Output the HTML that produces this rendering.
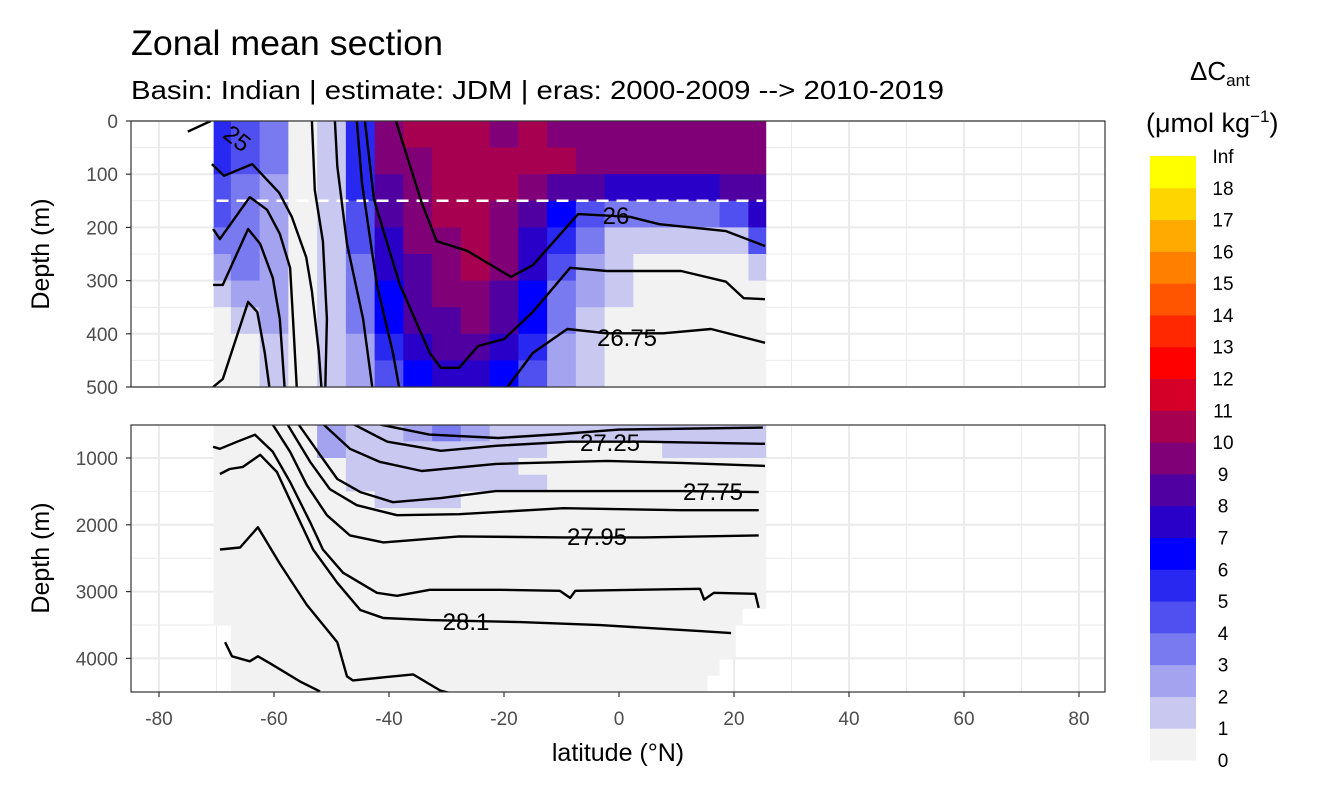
<!DOCTYPE html>
<html><head><meta charset="utf-8"><style>
body{margin:0;background:#fff;}
svg text{font-family:"Liberation Sans",Arial,sans-serif;}
</style></head><body>
<svg id="chart" width="1344" height="806" viewBox="0 0 1344 806" xmlns="http://www.w3.org/2000/svg">
<defs>
<clipPath id="clipTop"><rect x="131" y="121" width="974" height="266"/></clipPath>
<clipPath id="clipBot"><rect x="131" y="425" width="974" height="267"/></clipPath>
</defs>
<rect width="1344" height="806" fill="#fff"/>
<text x="131" y="55" font-size="35" textLength="312" lengthAdjust="spacingAndGlyphs" fill="#000">Zonal mean section</text>
<text x="131" y="99" font-size="26" textLength="813" lengthAdjust="spacingAndGlyphs" fill="#000">Basin: Indian | estimate: JDM  | eras: 2000-2009 --&gt; 2010-2019</text>
<g id="gTop"></g>
<g id="gBot"></g>
<g id="gAxes"></g>
<text transform="translate(49,254) rotate(-90)" text-anchor="middle" font-size="25" fill="#000">Depth (m)</text>
<text transform="translate(49,558) rotate(-90)" text-anchor="middle" font-size="25" fill="#000">Depth (m)</text>
<text x="618" y="761" text-anchor="middle" font-size="25" fill="#000">latitude (°N)</text>
<g id="gLegend">
<text x="1190" y="80" font-size="26" fill="#000">ΔC<tspan font-size="17" dy="6">ant</tspan></text>
<text x="1146" y="132" font-size="27" fill="#000">(μmol kg<tspan font-size="17" dy="-10">−1</tspan><tspan dy="10">)</tspan></text>
</g>
</svg>
<script>
const NS='http://www.w3.org/2000/svg';
const latCenters=[-70,-65,-60,-55,-50,-45,-40,-35,-30,-25,-20,-15,-10,-5,0,5,10,15,20,25];
const topDepthCenters=[25,75,125,175,225,275,325,375,425,475];
const topValues=[
[5,4,3,0,1,5,9,10,10,10,9,10,9,9,9,9,9,9,9,9],
[5,4,3,0,1,5,9,9,10,10,10,10,10,9,9,9,9,9,9,9],
[4,3,2,0,1,5,8,9,10,10,10,9,8,8,7,7,7,7,8,8],
[4,3,2,0,1,4,8,9,10,10,9,8,6,4,3,3,3,3,4,7],
[3,3,2,0,1,4,7,9,9,10,9,7,5,3,1,1,1,1,1,4],
[2,3,2,0,1,3,7,8,9,10,9,7,4,2,1,0,0,0,0,1],
[1,2,2,0,1,3,6,8,9,9,8,6,3,2,1,0,0,0,0,0],
[0,1,2,0,1,3,6,8,8,9,8,6,3,1,0,0,0,0,0,0],
[0,0,1,0,1,2,5,7,8,8,7,5,2,1,0,0,0,0,0,0],
[0,0,1,0,1,2,4,6,7,7,6,4,2,1,0,0,0,0,0,0]];
const botDepthCenters=[625,875,1125,1375,1625,1875,2125,2375,2625,2875,3125,3375,3625,3875,4125,4375];
const botValues=[
[0,0,0,0,2,1,1,2,3,2,1,1,1,1,1,1,1,1,1,1],
[0,0,0,0,2,1,1,1,1,1,1,1,0,0,0,0,1,1,1,1],
[0,0,0,0,0,1,1,1,1,1,1,0,0,0,0,0,0,0,0,0],
[0,0,0,0,0,1,1,1,1,1,1,1,0,0,0,0,0,0,0,0],
[0,0,0,0,0,0,1,1,1,0,0,0,0,0,0,0,0,0,0,0],
[0,0,0,0,0,0,0,0,0,0,0,0,0,0,0,0,0,0,0,0],
[0,0,0,0,0,0,0,0,0,0,0,0,0,0,0,0,0,0,0,0],
[0,0,0,0,0,0,0,0,0,0,0,0,0,0,0,0,0,0,0,0],
[0,0,0,0,0,0,0,0,0,0,0,0,0,0,0,0,0,0,0,0],
[0,0,0,0,0,0,0,0,0,0,0,0,0,0,0,0,0,0,0,0],
[0,0,0,0,0,0,0,0,0,0,0,0,0,0,0,0,0,0,0,0],
[0,0,0,0,0,0,0,0,0,0,0,0,0,0,0,0,0,0,0,0],
[0,0,0,0,0,0,0,0,0,0,0,0,0,0,0,0,0,0,0,0],
[0,0,0,0,0,0,0,0,0,0,0,0,0,0,0,0,0,0,0,0],
[0,0,0,0,0,0,0,0,0,0,0,0,0,0,0,0,0,0,0,0],
[0,0,0,0,0,0,0,0,0,0,0,0,0,0,0,0,0,0,0,0]];
const botCoverageDepth=[3250,3500,4000,4250,4500];
const botCoverageMaxLat=[25.5,21.4,20.2,17.4,15.3];
const botCoverageMinLat=[-70.5,-70.5,-67.5,-67.5,-67.5];
const binColors=['#f2f2f2','#c8c8f0','#a3a3f0','#7a7af0','#5050f0','#2828f0','#0000ff','#2800c8','#5000a0','#800078','#a80050','#d40028','#ff0000','#ff2800','#ff5500','#ff8000','#ffaa00','#ffd500','#ffff00'];
const legendLabels=['0','1','2','3','4','5','6','7','8','9','10','11','12','13','14','15','16','17','18','Inf'];
const xTicks=[-80,-60,-40,-20,0,20,40,60,80];
const topYTicks=[0,100,200,300,400,500];
const botYTicks=[1000,2000,3000,4000];
const topLines=[
[[-70.8,81],[-68.7,103],[-63.8,81],[-59.1,135],[-56.9,180],[-54.4,256],[-53.4,320],[-52.2,434],[-51.7,508]],
[[-70.6,203],[-69.4,222],[-64.2,143],[-61.2,167],[-59,212],[-57.2,276],[-56.7,372],[-56,509]],
[[-70.6,308],[-68.9,308],[-64.5,203],[-62.4,231],[-60.2,295],[-59,372],[-58.1,509]],
[[-70.6,500],[-68.9,485],[-64.5,340],[-62.9,359],[-61.6,436],[-60.7,509]],
[[-53.4,0],[-52.9,130],[-51.5,226],[-50.8,372],[-51.1,509]],
[[-49.4,0],[-49,85],[-47.3,231],[-44.5,372],[-42.8,509]],
[[-45.6,0],[-44.7,117],[-42.1,308],[-39.3,436],[-38.1,509]],
[[-44.2,0],[-42.6,148],[-38.1,308],[-32.9,436],[-31,464],[-27.8,464],[-24.5,423],[-20,410],[-15,359],[-8.5,276],[-2.1,282],[10.8,282],[18.6,302],[21.7,333],[25.4,335]],
[[-38.8,0],[-34.3,154],[-31.7,226],[-26.4,244],[-18.8,293],[-15,271],[-7.1,175],[1.9,180],[7,194],[18.6,207],[25.4,235]],
[[-20,509],[-15,436],[-9,391],[-2.1,399],[7.7,399],[16,391],[25.4,417]],
[[-75,20],[-71,0]]];
const botLines=[
[[-41.5,500],[-33,650],[-21,700],[-10,640],[0,575],[25,545]],
[[-46.3,490],[-40.3,756],[-31,892],[-21.4,817],[-8.5,756],[4.3,756],[25.4,787]],
[[-51.5,490],[-46.8,862],[-41.6,1058],[-34.3,1194],[-21.4,1088],[-2.1,1043],[10.8,1073],[25.4,1118]],
[[-55.8,490],[-52,952],[-49,1314],[-45,1510],[-39.3,1661],[-31,1601],[-21.4,1495],[-8.5,1495],[10.8,1495],[24.3,1510]],
[[-57.7,490],[-53.7,1058],[-50.3,1465],[-45.6,1706],[-38.6,1857],[-27.8,1842],[-9.7,1752],[10.8,1782],[24.3,1782]],
[[-60.3,490],[-57.2,907],[-54.3,1405],[-50.8,1857],[-46.8,2159],[-41,2264],[-27.8,2174],[-9.7,2189],[4.3,2189],[24.3,2159]],
[[-70.6,832],[-69.4,862],[-66.4,756],[-63.3,651],[-60.2,907],[-57.2,1360],[-53.7,1963],[-51.5,2370],[-48,2717],[-42.1,3018],[-38.6,3063],[-32.9,2973],[-20.7,2973],[-10.3,2988],[-8.5,3094],[-7.6,2988],[14.1,2958],[14.8,3120],[16.5,3018],[23.7,3033],[24.3,3244]],
[[-69.4,1239],[-67.7,1164],[-65.4,1133],[-62.4,952],[-59.5,1209],[-56,1857],[-53.2,2370],[-49,2868],[-45,3275],[-41,3395],[-32.9,3426],[-17.2,3456],[-3.3,3501],[14.1,3591],[19.5,3622]],
[[-69.4,2370],[-65.9,2340],[-62.8,2038],[-59,2581],[-54.3,3199],[-49,3757],[-47.3,4270],[-46.3,4330],[-35.8,4240],[-31.1,4481],[-27.1,4571]],
[[-68.5,3757],[-67.3,3968],[-64.2,4044],[-62.8,3968],[-60.7,4074],[-55.5,4345],[-52,4496]]];
const contourLabels=[['26',616,224,0,1],['26.75',627,346,0,1],['25',232,145,38,1],['27.25',610,451,0,2],['27.75',713,500,0,2],['27.95',597,545,0,2],['28.1',466,630,0,2]];

function xS(lat){return 619+5.75*lat;}
function yT(d){return 121+0.532*d;}
function yB(d){return 458+(d-1000)*0.0668;}
function mk(tag,attrs,parent){const e=document.createElementNS(NS,tag);for(const k in attrs)e.setAttribute(k,attrs[k]);parent.appendChild(e);return e;}
const gTop=document.getElementById('gTop'),gBot=document.getElementById('gBot'),gAx=document.getElementById('gAxes'),gLeg=document.getElementById('gLegend');

function panel(g,y0,y1,yTicksMajor,yTicksMinor,yF){
  const bg=mk('rect',{x:131,y:y0,width:974,height:y1-y0,fill:'#fff'},g);
  
  
  for(let lat=-70;lat<=70;lat+=20){const l=mk('line',{x1:xS(lat),x2:xS(lat),y1:y0,y2:y1,stroke:'#ebebeb','stroke-width':1},g);}
  xTicks.forEach(lat=>{const l=mk('line',{x1:xS(lat),x2:xS(lat),y1:y0,y2:y1,stroke:'#ebebeb','stroke-width':2},g);});
  yTicksMinor.forEach(d=>{const l=mk('line',{x1:131,x2:1105,y1:yF(d),y2:yF(d),stroke:'#ebebeb','stroke-width':1},g);});
  yTicksMajor.forEach(d=>{const l=mk('line',{x1:131,x2:1105,y1:yF(d),y2:yF(d),stroke:'#ebebeb','stroke-width':2},g);});
}
panel(gTop,121,387,topYTicks,[50,150,250,350,450],yT);
panel(gBot,425,692,botYTicks,[1500,2500,3500],yB);

const cT=mk('g',{'clip-path':'url(#clipTop)'},gTop);
topValues.forEach((row,ri)=>{const d=topDepthCenters[ri];row.forEach((v,ci)=>{
  if(v<0)return;const lat=latCenters[ci];
  const a=Math.max(lat-2.5,-70.5),b=Math.min(lat+2.5,25.5);
  const r=mk('rect',{x:xS(a),y:yT(d-25),width:xS(b)-xS(a)+0.6,height:yT(d+25)-yT(d-25)+0.6,fill:binColors[v]},cT);
  
  });});
const cB=mk('g',{'clip-path':'url(#clipBot)'},gBot);
botValues.forEach((row,ri)=>{const d=botDepthCenters[ri];
  let k=0;while(k<botCoverageDepth.length-1&&d>botCoverageDepth[k])k++;
  const mx=botCoverageMaxLat[k],mn=botCoverageMinLat[k];
  row.forEach((v,ci)=>{const lat=latCenters[ci];
  const a=Math.max(lat-2.5,mn),b=Math.min(lat+2.5,mx);if(b<=a||v<0)return;
  const r=mk('rect',{x:xS(a),y:yB(d-125),width:xS(b)-xS(a)+0.6,height:yB(d+125)-yB(d-125)+0.6,fill:binColors[v]},cB);
  
  });});

const dl=mk('line',{x1:xS(-70),x2:xS(25),y1:yT(150),y2:yT(150),stroke:'#fff','stroke-width':2.5,'stroke-dasharray':'12,8'},cT);



function drawLines(lines,g,yF){lines.forEach(pts=>{
  const p=mk('polyline',{points:pts.map(q=>xS(q[0]).toFixed(1)+','+yF(q[1]).toFixed(1)).join(' '),fill:'none',stroke:'#000','stroke-width':2.4,'stroke-linejoin':'round'},g);
  
  });}
drawLines(topLines,cT,yT);
drawLines(botLines,cB,yB);
contourLabels.forEach(c=>{const t=mk('text',{x:c[1],y:c[2],'font-size':24,'text-anchor':'middle',fill:'#000',transform:'rotate('+c[3]+' '+c[1]+' '+c[2]+')'},c[4]==1?gTop:gBot);t.textContent=c[0];
  
  });

[[121,387],[425,692]].forEach(p=>{const r=mk('rect',{x:131,y:p[0],width:974,height:p[1]-p[0],fill:'none',stroke:'#333','stroke-width':1.2},gAx);});
topYTicks.forEach(d=>{mk('line',{x1:126,x2:131,y1:yT(d),y2:yT(d),stroke:'#333','stroke-width':1.2},gAx);const t=mk('text',{x:118,y:yT(d)+7,'text-anchor':'end','font-size':19,fill:'#4d4d4d'},gAx);t.textContent=d;
  
  });
botYTicks.forEach(d=>{mk('line',{x1:126,x2:131,y1:yB(d),y2:yB(d),stroke:'#333','stroke-width':1.2},gAx);const t=mk('text',{x:118,y:yB(d)+7,'text-anchor':'end','font-size':19,fill:'#4d4d4d'},gAx);t.textContent=d;
  
  });
xTicks.forEach(lat=>{mk('line',{x1:xS(lat),x2:xS(lat),y1:692,y2:697,stroke:'#333','stroke-width':1.2},gAx);const t=mk('text',{x:xS(lat),y:725,'text-anchor':'middle','font-size':19,fill:'#4d4d4d'},gAx);t.textContent=lat;
  
  });

const lTop=156,lBot=760,nb=binColors.length,bh=(lBot-lTop)/nb;
binColors.forEach((c,i)=>{const r=mk('rect',{x:1150,y:lBot-(i+1)*bh,width:46,height:bh+0.5,fill:c},gLeg);
  
  });
legendLabels.forEach((s,i)=>{const t=mk('text',{x:1223,y:lBot-i*bh+7,'text-anchor':'middle','font-size':19,fill:'#000'},gLeg);t.textContent=s;
  
  });
</script>
</body></html>
